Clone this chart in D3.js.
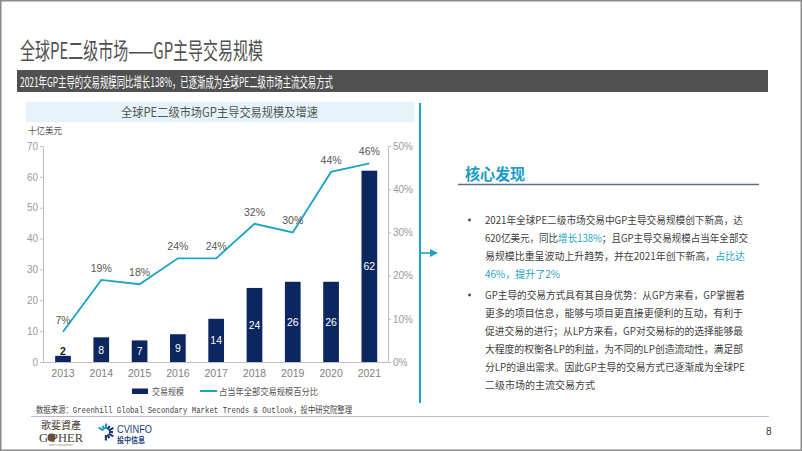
<!DOCTYPE html>
<html><head><meta charset="utf-8">
<script src="https://cdn.jsdelivr.net/npm/d3@7/dist/d3.min.js"></script>
<style>
html,body{margin:0;padding:0;background:#fff;}
svg{display:block;font-family:"Noto Sans CJK SC","Noto Sans",sans-serif;}
</style></head>
<body>
<svg id="c" width="802" height="451"></svg>
<script>
// ---- data ----
const years = ["2013","2014","2015","2016","2017","2018","2019","2020","2021"];
const volume = [2, 8, 7, 9, 14, 24, 26, 26, 62];          // 十亿美元
const share = [7, 19, 18, 24, 24, 32, 30, 44, 46];        // %
const leftTicks = [0, 10, 20, 30, 40, 50, 60, 70];
const rightTicks = [0, 10, 20, 30, 40, 50];
const seriesNames = ["交易规模", "占当年全部交易规模百分比"];

const svg = d3.select("#c");
const NAVY = "#0c2660", TEAL = "#1ba3c6", AX = "#bfbfbf";

// frame
svg.append("rect").attr("x",0.75).attr("y",0.75).attr("width",800.5).attr("height",449.5)
  .attr("fill","#fff").attr("stroke","#8a8a8a").attr("stroke-width",1.5);

// page title
svg.append("text").attr("x",20).attr("y",59).attr("font-size",23).attr("fill","#505050")
  .attr("textLength",243).attr("lengthAdjust","spacingAndGlyphs")
  .text("全球PE二级市场——GP主导交易规模");

// subtitle bar
svg.append("rect").attr("x",17).attr("y",70).attr("width",751).attr("height",22).attr("fill","#515151");
svg.append("text").attr("x",20).attr("y",86.5).attr("font-size",13.5).attr("fill","#fff")
  .attr("textLength",313).attr("lengthAdjust","spacingAndGlyphs")
  .text("2021年GP主导的交易规模同比增长138%，已逐渐成为全球PE二级市场主流交易方式");

// chart title box
svg.append("rect").attr("x",26).attr("y",102).attr("width",388).attr("height",20).attr("fill","#e4f3fa");
svg.append("text").attr("x",121).attr("y",116.5).attr("font-size",12.5).attr("fill","#555")
  .attr("textLength",197).attr("lengthAdjust","spacingAndGlyphs")
  .text("全球PE二级市场GP主导交易规模及增速");

// unit
svg.append("text").attr("x",28).attr("y",133.5).attr("font-size",9.5).attr("fill","#555")
  .attr("textLength",34).attr("lengthAdjust","spacingAndGlyphs").text("十亿美元");

// scales
const x = d3.scaleBand().domain(years).range([43.85, 388.5]).paddingInner(0.59).paddingOuter(0.295);
const yL = d3.scaleLinear().domain([0,70]).range([362,146]);
const yR = d3.scaleLinear().domain([0,50]).range([362,146]);

function styleAxis(g){
  g.selectAll("path").attr("stroke",AX);
  g.selectAll("line").attr("stroke",AX);
  g.selectAll("text").attr("fill","#9a9a9a").attr("font-size",10).attr("font-family","'Liberation Sans',Arial,sans-serif");
}
const gl = svg.append("g").attr("transform","translate(43,0)")
  .call(d3.axisLeft(yL).tickValues(leftTicks).tickSize(3).tickSizeOuter(0).tickPadding(2));
styleAxis(gl);
const gr = svg.append("g").attr("transform","translate(388,0)")
  .call(d3.axisRight(yR).tickValues(rightTicks).tickSize(3).tickSizeOuter(0).tickPadding(2).tickFormat(d=>d+"%"));
styleAxis(gr);
const gb = svg.append("g").attr("transform","translate(0,362)")
  .call(d3.axisBottom(x).tickSize(0).tickPadding(8));
gb.select("path").attr("d","M43,0.5H388");
styleAxis(gb);
gb.selectAll("text").attr("fill","#808080").attr("font-size",10.5);

// bars
svg.append("g").selectAll("rect").data(volume).join("rect")
  .attr("x",(d,i)=>x(years[i])).attr("width",x.bandwidth())
  .attr("y",d=>yL(d)).attr("height",d=>yL(0)-yL(d)).attr("fill",NAVY);
svg.append("g").selectAll("text").data(volume).join("text")
  .attr("x",(d,i)=>x(years[i])+x.bandwidth()/2)
  .attr("y",d=> d<4 ? yL(d)-1 : (yL(d)+yL(0))/2+4)
  .attr("text-anchor","middle").attr("font-size",10.5)
  .attr("font-family","'Liberation Sans',Arial,sans-serif")
  .attr("font-weight",d=>d<4?"bold":"normal")
  .attr("fill",d=>d<4?"#222":"#fff").text(d=>d);

// line
const line = d3.line().x((d,i)=>x(years[i])+x.bandwidth()/2).y(d=>yR(d));
svg.append("path").datum(share).attr("d",line).attr("fill","none").attr("stroke",TEAL).attr("stroke-width",1.8);
svg.append("g").selectAll("text").data(share).join("text")
  .attr("x",(d,i)=>x(years[i])+x.bandwidth()/2).attr("y",d=>yR(d)-8)
  .attr("text-anchor","middle").attr("font-size",10.5).attr("fill","#555")
  .attr("font-family","'Liberation Sans',Arial,sans-serif").text(d=>d+"%");

// legend
svg.append("rect").attr("x",132).attr("y",388.5).attr("width",16).attr("height",5.5).attr("fill",NAVY);
svg.append("text").attr("x",152).attr("y",394.5).attr("font-size",9.5).attr("fill","#555")
  .attr("textLength",32).attr("lengthAdjust","spacingAndGlyphs").text(seriesNames[0]);
svg.append("line").attr("x1",200).attr("x2",217).attr("y1",391).attr("y2",391).attr("stroke",TEAL).attr("stroke-width",2);
svg.append("text").attr("x",219).attr("y",394.5).attr("font-size",9.5).attr("fill","#555")
  .attr("textLength",99).attr("lengthAdjust","spacingAndGlyphs").text(seriesNames[1]);

// source
svg.append("text").attr("x",36).attr("y",413).attr("font-size",9).attr("fill","#444")
  .attr("font-family","'Liberation Mono','DejaVu Sans Mono','Noto Sans CJK SC',monospace")
  .attr("textLength",316).attr("lengthAdjust","spacingAndGlyphs")
  .text("数据来源：Greenhill Global Secondary Market Trends & Outlook，投中研究院整理");
svg.append("line").attr("x1",31).attr("x2",769).attr("y1",416.5).attr("y2",416.5).attr("stroke","#b5bccb").attr("stroke-width",1);

// vertical divider & arrow
svg.append("line").attr("x1",420).attr("x2",420).attr("y1",103).attr("y2",403).attr("stroke",TEAL).attr("stroke-width",2);
svg.append("defs").append("marker").attr("id","ah").attr("viewBox","0 0 10 10").attr("refX",9).attr("refY",5)
  .attr("markerWidth",5).attr("markerHeight",5).attr("orient","auto")
  .append("path").attr("d","M0,0L10,5L0,10Z").attr("fill",TEAL);
svg.append("line").attr("x1",421).attr("x2",437).attr("y1",253).attr("y2",253)
  .attr("stroke",TEAL).attr("stroke-width",1.6).attr("marker-end","url(#ah)");

// right panel
svg.append("text").attr("x",465).attr("y",180).attr("font-size",15.5).attr("font-weight","bold").attr("fill","#1a9cc8")
  .attr("textLength",60).attr("lengthAdjust","spacingAndGlyphs").text("核心发现");
svg.append("line").attr("x1",458).attr("x2",759).attr("y1",184.5).attr("y2",184.5).attr("stroke","#5b6e8c").attr("stroke-width",1.6);

const bullets = [
  {y0:220, lines:[
    {w:258, seg:[["2021年全球PE二级市场交易中GP主导交易规模创下新高，达",0]]},
    {w:263, seg:[["620亿美元，同比",0],["增长138%",1],["；且GP主导交易规模占当年全部交",0]]},
    {w:260, seg:[["易规模比重呈波动上升趋势，并在2021年创下新高，",0],["占比达",1]]},
    {w:null, seg:[["46%，提升了2%",1]]}
  ]},
  {y0:295, lines:[
    {w:260, seg:[["GP主导的交易方式具有其自身优势：从GP方来看，GP掌握着",0]]},
    {w:258, seg:[["更多的项目信息，能够与项目更直接更便利的互动，有利于",0]]},
    {w:258, seg:[["促进交易的进行；从LP方来看，GP对交易标的的选择能够最",0]]},
    {w:258, seg:[["大程度的权衡各LP的利益，为不同的LP创造流动性，满足部",0]]},
    {w:260, seg:[["分LP的退出需求。因此GP主导的交易方式已逐渐成为全球PE",0]]},
    {w:null, seg:[["二级市场的主流交易方式",0]]}
  ]}
];
bullets.forEach(b=>{
  svg.append("circle").attr("cx",469.5).attr("cy",b.y0).attr("r",1.4).attr("fill","#444");
  b.lines.forEach((ln,i)=>{
    const t = svg.append("text").attr("x",485).attr("y",b.y0+4+i*17.9).attr("font-size",10).attr("fill","#404040");
    if(ln.w) t.attr("textLength",ln.w).attr("lengthAdjust","spacingAndGlyphs");
    ln.seg.forEach(s=>t.append("tspan").attr("fill",s[1]?TEAL:"#404040").text(s[0]));
  });
});

// page number
svg.append("text").attr("x",766).attr("y",435).attr("font-size",10).attr("fill","#333")
  .attr("font-family","'Liberation Sans',Arial,sans-serif").text("8");

// logos
const lg = svg.append("g");
lg.append("text").attr("x",41).attr("y",429).attr("font-size",10).attr("fill","#4a3c36")
  .attr("font-family","'Noto Sans CJK TC',serif").attr("textLength",40).attr("lengthAdjust","spacingAndGlyphs").text("歌斐資產");
lg.append("text").attr("x",39).attr("y",441.5).attr("font-size",12).attr("fill","#4a3c36")
  .attr("font-family","'Liberation Serif','DejaVu Serif',serif").attr("textLength",44).attr("lengthAdjust","spacingAndGlyphs").text("G    PHER");
lg.append("circle").attr("cx",51.5).attr("cy",437.5).attr("r",4).attr("fill","#6b4a36");
lg.append("text").attr("x",61).attr("y",446).attr("font-size",2.5).attr("fill","#777").attr("text-anchor","middle").text("ASSET MANAGEMENT");
// CVINFO icon
const ic = lg.append("g").attr("transform","translate(106,432)");
d3.range(9).forEach(k=>{
  const a = -150 + k*30;
  ic.append("rect").attr("x",3).attr("y",-1).attr("width",k%2?4:5.5).attr("height",2.2)
    .attr("fill",k<3?"#1a9cc8":"#1a3a7a").attr("transform",`rotate(${a})`);
});
lg.append("text").attr("x",117).attr("y",433).attr("font-size",11).attr("fill","#1a3a7a")
  .attr("font-family","'Liberation Sans',Arial,sans-serif").attr("textLength",35).attr("lengthAdjust","spacingAndGlyphs").text("CVINFO");
lg.append("text").attr("x",117).attr("y",443).attr("font-size",7.5).attr("font-weight","bold").attr("fill","#1a3a7a")
  .attr("textLength",28).attr("lengthAdjust","spacingAndGlyphs").text("投中信息");
</script>
</body></html>
